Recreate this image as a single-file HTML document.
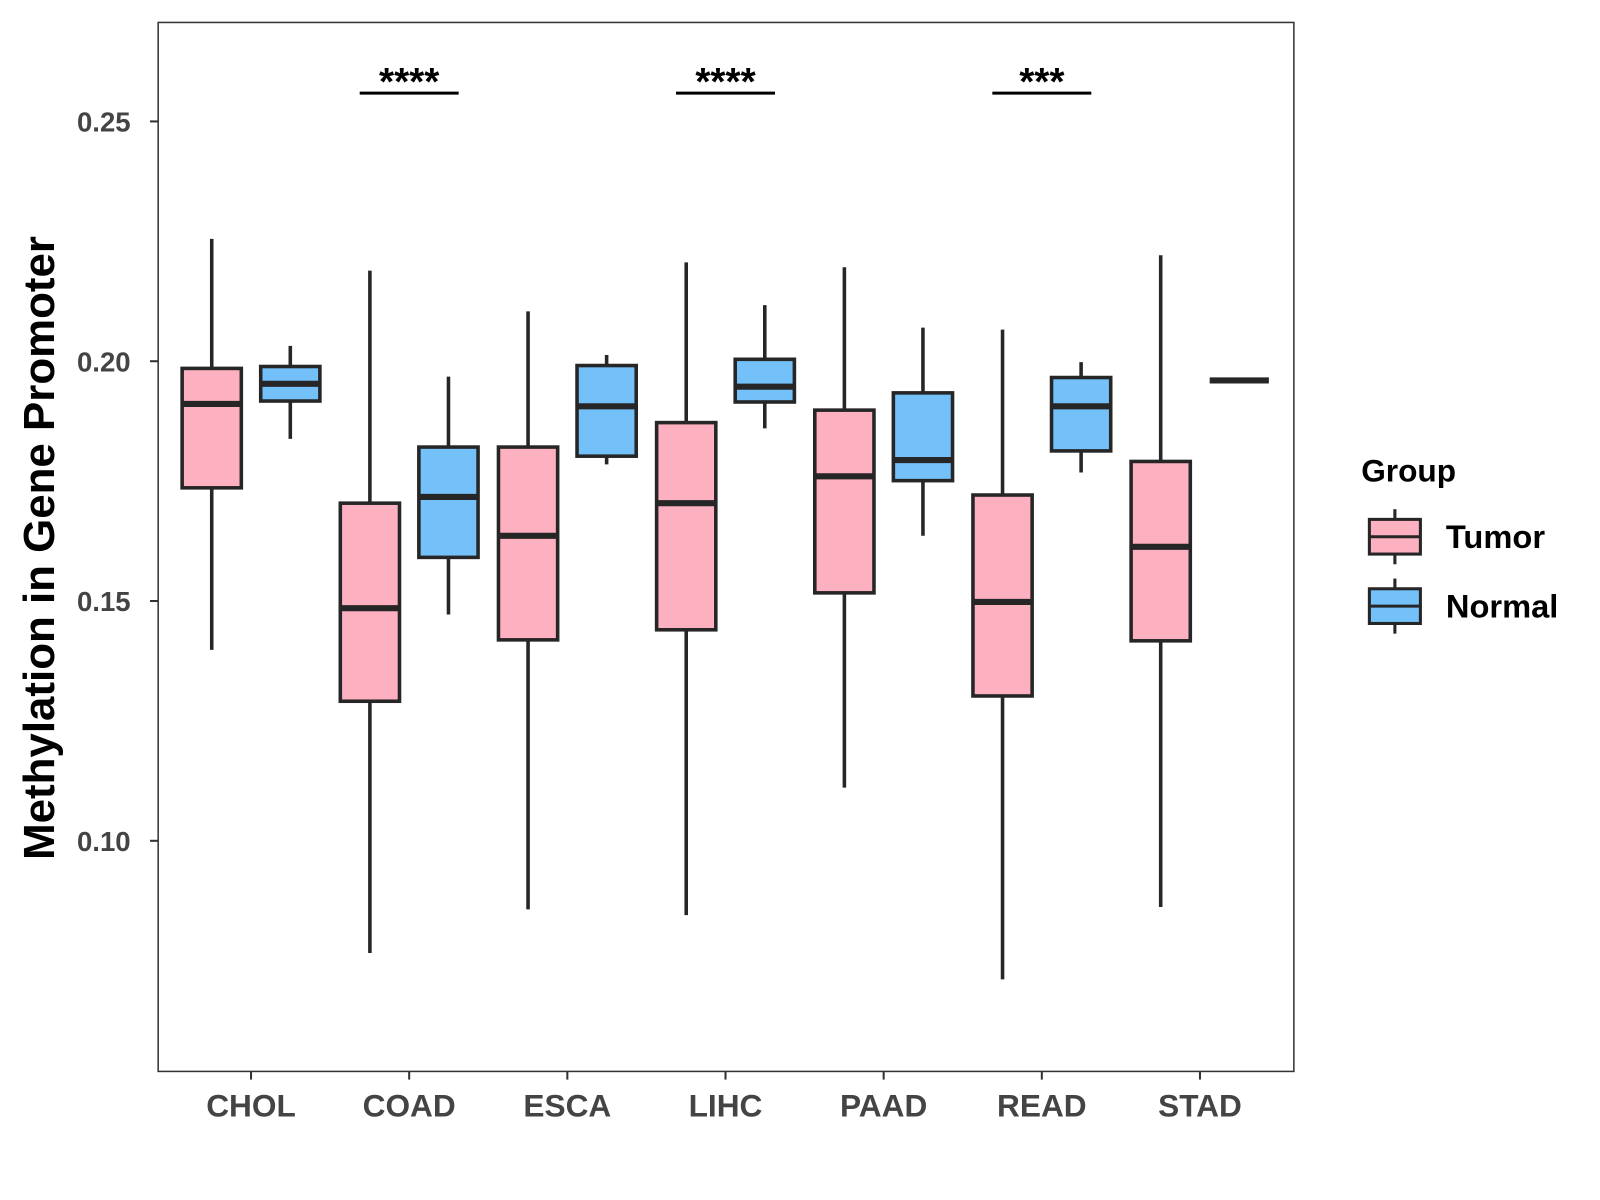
<!DOCTYPE html>
<html><head><meta charset="utf-8"><style>
html,body{margin:0;padding:0;background:#fff}
svg{display:block;font-family:"Liberation Sans",Arial,sans-serif}
</style></head><body>
<svg id="chart" width="1600" height="1200" viewBox="0 0 1600 1200"><g id="root" transform="scale(1.0204)"></g></svg>
<script>
const categories=["CHOL","COAD","ESCA","LIHC","PAAD","READ","STAD"];
const tumorStats=[[0.1398,0.1736,0.1911,0.1985,0.2255],[0.0766,0.1291,0.1485,0.1704,0.2189],[0.0857,0.1419,0.1636,0.1821,0.2104],[0.0845,0.1440,0.1704,0.1872,0.2206],[0.1111,0.1517,0.1760,0.1898,0.2196],[0.0711,0.1302,0.1498,0.1721,0.2066],[0.0862,0.1417,0.1613,0.1791,0.2221]];
const normalStats=[[0.1838,0.1917,0.1953,0.1989,0.2032],[0.1472,0.1591,0.1717,0.1821,0.1968],[0.1785,0.1802,0.1906,0.1991,0.2013],[0.1860,0.1915,0.1947,0.2004,0.2117],[0.1636,0.1751,0.1794,0.1934,0.2070],[0.1768,0.1813,0.1906,0.1966,0.1998],[0.1960,0.1960,0.1960,0.1960,0.1960]];
const yTicks=[0.10,0.15,0.20,0.25];
const yTickLabels=["0.10","0.15","0.20","0.25"];
const sigCategories=["COAD","LIHC","READ"];
const sigLabels=["****","****","***"];
const sigLevel=0.2559;

const NS="http://www.w3.org/2000/svg";
const svg=document.getElementById('root');
const P={l:155,r:1268,t:22,b:1050};
const y=v=>354-(v-0.2)*4700;
const x=i=>246+i*155;
function el(t,a,p){const e=document.createElementNS(NS,t);for(const k in a)e.setAttribute(k,a[k]);(p||svg).appendChild(e);return e;}

const frame=el('rect',{x:P.l,y:P.t,width:P.r-P.l,height:P.b-P.t,fill:'none',stroke:'#333','stroke-width':1.5});



yTicks.forEach((v,i)=>{
  const g=el('g',{});
  
  
  el('line',{x1:P.l-8,x2:P.l,y1:y(v),y2:y(v),stroke:'#333','stroke-width':2},g);
  const t=el('text',{x:P.l-27,y:y(v)+10,'text-anchor':'end','font-size':27,'font-weight':'bold',fill:'#444'},g);
  t.textContent=yTickLabels[i];
});
categories.forEach((c,i)=>{
  const g=el('g',{});
  
  
  el('line',{x1:x(i),x2:x(i),y1:P.b,y2:P.b+8,stroke:'#333','stroke-width':2},g);
  const t=el('text',{x:x(i),y:P.b+44,'text-anchor':'middle','font-size':31,'font-weight':'bold',fill:'#444'},g);
  t.textContent=c;
});
const yt=el('text',{x:0,y:0,transform:'translate(53,537) rotate(-90)','text-anchor':'middle','font-size':43,'font-weight':'bold',fill:'#000'});
yt.textContent='Methylation in Gene Promoter';



function box(cx,s,fill,name){
  const g=el('g',{});
  
  
  const w=58;
  el('line',{x1:cx,x2:cx,y1:y(s[0]),y2:y(s[4]),stroke:'#262626','stroke-width':3.5},g);
  el('rect',{x:cx-w/2,y:y(s[3]),width:w,height:Math.max(0,y(s[1])-y(s[3])),fill:fill,stroke:'#262626','stroke-width':3.5},g);
  el('line',{x1:cx-w/2,x2:cx+w/2,y1:y(s[2]),y2:y(s[2]),stroke:'#262626','stroke-width':6},g);
}
categories.forEach((c,i)=>{
  box(x(i)-38.5,tumorStats[i],'#fcb0c0','box-tumor-'+c.toLowerCase());
  box(x(i)+38.5,normalStats[i],'#74c0f8','box-normal-'+c.toLowerCase());
});
sigCategories.forEach((c,k)=>{
  const i=categories.indexOf(c);
  const g=el('g',{});
  
  
  el('line',{x1:x(i)-48.5,x2:x(i)+48.5,y1:y(sigLevel),y2:y(sigLevel),stroke:'#000','stroke-width':3},g);
  const t=el('text',{x:x(i),y:y(sigLevel)+2,'text-anchor':'middle','font-size':38,'font-weight':'bold',fill:'#000'},g);
  t.textContent=sigLabels[k];
});
const lg=el('g',{});


const lt=el('text',{x:1334,y:472,'font-size':31,'font-weight':'bold',fill:'#000'},lg);
lt.textContent='Group';
[["Tumor",'#fcb0c0',526],["Normal",'#74c0f8',594]].forEach(([n,f,cy])=>{
  const g=el('g',{},lg);
  
  
  el('line',{x1:1367,x2:1367,y1:cy-27,y2:cy+27,stroke:'#262626','stroke-width':3},g);
  el('rect',{x:1342,y:cy-17,width:50,height:34,fill:f,stroke:'#262626','stroke-width':3},g);
  el('line',{x1:1342,x2:1392,y1:cy,y2:cy,stroke:'#262626','stroke-width':3},g);
  const t=el('text',{x:1417,y:cy+11,'font-size':32,'font-weight':'bold',fill:'#000'},g);
  t.textContent=n;
});
</script>
</body></html>
